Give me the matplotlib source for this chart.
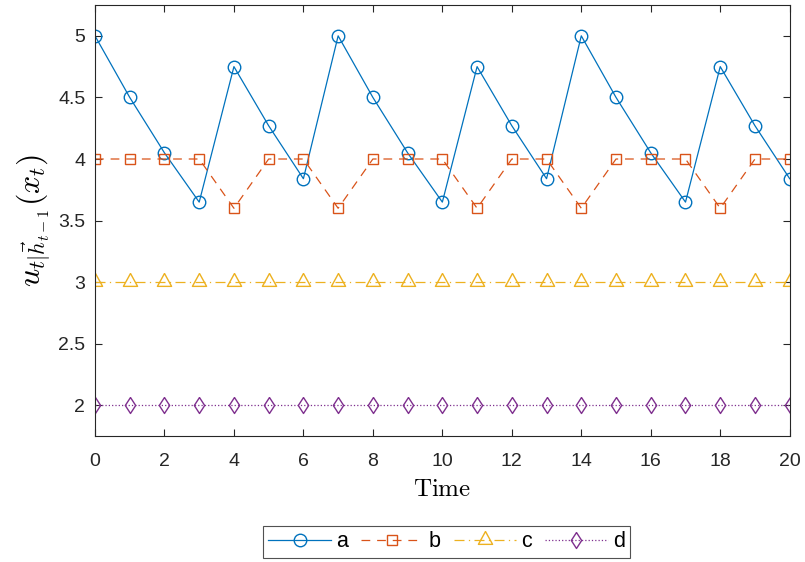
import matplotlib
matplotlib.use("Agg")
import matplotlib.pyplot as plt

t = list(range(21))
a = [5, 4.5, 4.05, 3.65, 4.75, 4.27, 3.84,
     5, 4.5, 4.05, 3.65, 4.75, 4.27, 3.84,
     5, 4.5, 4.05, 3.65, 4.75, 4.27, 3.84]
b = [4, 4, 4, 4, 3.6, 4, 4, 3.6, 4, 4, 4, 3.6, 4, 4, 3.6, 4, 4, 4, 3.6, 4, 4]
c = [3] * 21
d = [2] * 21
labels = ["a", "b", "c", "d"]

plt.rcParams["font.family"] = ["Liberation Sans", "DejaVu Sans"]
plt.rcParams["mathtext.fontset"] = "cm"

# matlab-like triangle and diamond shapes
tri = [(0, 0.7), (0.55, -0.3), (-0.55, -0.3), (0, 0.7)]
dia = [(0, 1), (0.65, 0), (0, -1), (-0.65, 0), (0, 1)]

fig = plt.figure(figsize=(8.05, 5.62), dpi=100)
ax = fig.add_axes([0.118, 0.224, 0.863, 0.767])

ax.plot(t, a, "-", marker="o", color="#0072BD", lw=0.9, ms=9, mfc="none", mew=1,
        label=labels[0])
ax.plot(t, b, "--", marker="s", color="#D95319", lw=0.9, ms=6.5, mfc="none", mew=1,
        label=labels[1], dashes=(7, 5.5))
ax.plot(t, c, "-.", marker=tri, color="#EDB120", lw=0.9, ms=13, mfc="none", mew=1,
        label=labels[2], dashes=(8, 3.5, 1, 3.5))
ax.plot(t, d, ":", marker=dia, color="#7E2F8E", lw=0.9, ms=11.5, mfc="none", mew=1,
        label=labels[3])

ax.set_xlim(0, 20)
ax.set_ylim(1.75, 5.25)
ax.set_xticks(range(0, 21, 2))
ax.set_yticks([2, 2.5, 3, 3.5, 4, 4.5, 5])
ax.set_yticklabels(["2", "2.5", "3", "3.5", "4", "4.5", "5"])
ax.tick_params(direction="in", top=True, right=True, labelsize=14, colors="#262626",
               length=5, width=0.8)
ax.tick_params(axis="x", pad=12)
ax.tick_params(axis="y", pad=7)
for s in ax.spines.values():
    s.set_color("#262626")
    s.set_linewidth(0.8)

ax.set_xlabel(r"$\mathrm{Time}$", fontsize=18, labelpad=5)
ax.set_ylabel(r"$u_{t|\vec{h}_{t-1}}(x_t)$", fontsize=23, labelpad=4)

leg = fig.legend(loc="center", bbox_to_anchor=(0.555, 0.036), ncol=4,
                 frameon=True, fancybox=False, edgecolor="#262626",
                 fontsize=15.5, handlelength=2.9, handletextpad=0.25,
                 columnspacing=0.6, borderpad=0.25)
leg.get_frame().set_linewidth(0.8)

fig.savefig("out.png", dpi=100)
